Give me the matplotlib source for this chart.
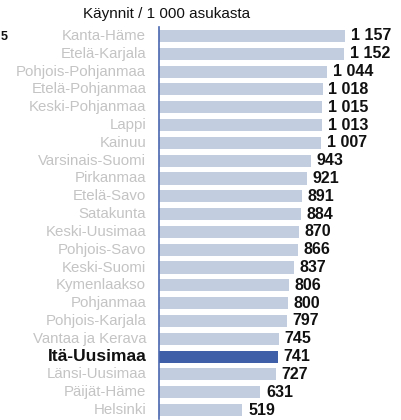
import matplotlib
matplotlib.use("Agg")
import matplotlib.pyplot as plt

regions = ["Kanta-Häme", "Etelä-Karjala", "Pohjois-Pohjanmaa", "Etelä-Pohjanmaa",
           "Keski-Pohjanmaa", "Lappi", "Kainuu", "Varsinais-Suomi", "Pirkanmaa",
           "Etelä-Savo", "Satakunta", "Keski-Uusimaa", "Pohjois-Savo", "Keski-Suomi",
           "Kymenlaakso", "Pohjanmaa", "Pohjois-Karjala", "Vantaa ja Kerava",
           "Itä-Uusimaa", "Länsi-Uusimaa", "Päijät-Häme", "Helsinki"]
values = [1157, 1152, 1044, 1018, 1015, 1013, 1007, 943, 921, 891, 884, 870, 866,
          837, 806, 800, 797, 745, 741, 727, 631, 519]
highlight = "Itä-Uusimaa"
title = "Käynnit / 1 000 asukasta"

plt.rcParams['font.family'] = ['Liberation Sans', 'DejaVu Sans']

W, H = 401, 420
fig = plt.figure(figsize=(W / 100, H / 100), dpi=100)
n = len(regions)
row = (410 - 36) / (n - 1)
top_px = 36 - row / 2
bottom_px = top_px + row * n
left_px = 159
xmax = 1500
scale = 0.1608
ax = fig.add_axes([left_px / W, 1 - bottom_px / H, xmax * scale / W, (bottom_px - top_px) / H])
ax.set_xlim(0, xmax)
ax.set_ylim(n - 0.5, -0.5)

light = "#c3cde0"
dark = "#3f5fa8"
colors = [dark if r == highlight else light for r in regions]
ys = list(range(n))
ax.barh(ys, values, height=0.68, color=colors, zorder=2)

for y, r, v in zip(ys, regions, values):
    lab = f"{v:,}".replace(",", " ")
    ax.text(v + 35, y, lab, ha="left", va="center", fontsize=11.5, fontweight="bold",
            color="#111111", clip_on=False)
    if r == highlight:
        ax.text(-80, y, r, ha="right", va="center", fontsize=12.5, fontweight="bold",
                color="#111111", clip_on=False)
    else:
        ax.text(-80, y, r, ha="right", va="center", fontsize=10.8, color="#c4c4c4",
                clip_on=False)

for s in ["top", "right", "bottom"]:
    ax.spines[s].set_visible(False)
ax.spines["left"].set_color("#4a68b0")
ax.spines["left"].set_linewidth(1.2)
ax.set_xticks([])
ax.set_yticks([])

fig.text(83 / W, 1 - 14 / H, title, ha="left", va="center", fontsize=11, color="#111111")
fig.text(0.5 / W, 1 - 37 / H, "5", ha="left", va="center", fontsize=9,
         fontweight="bold", color="#111111")

fig.savefig("out.png", dpi=100)
